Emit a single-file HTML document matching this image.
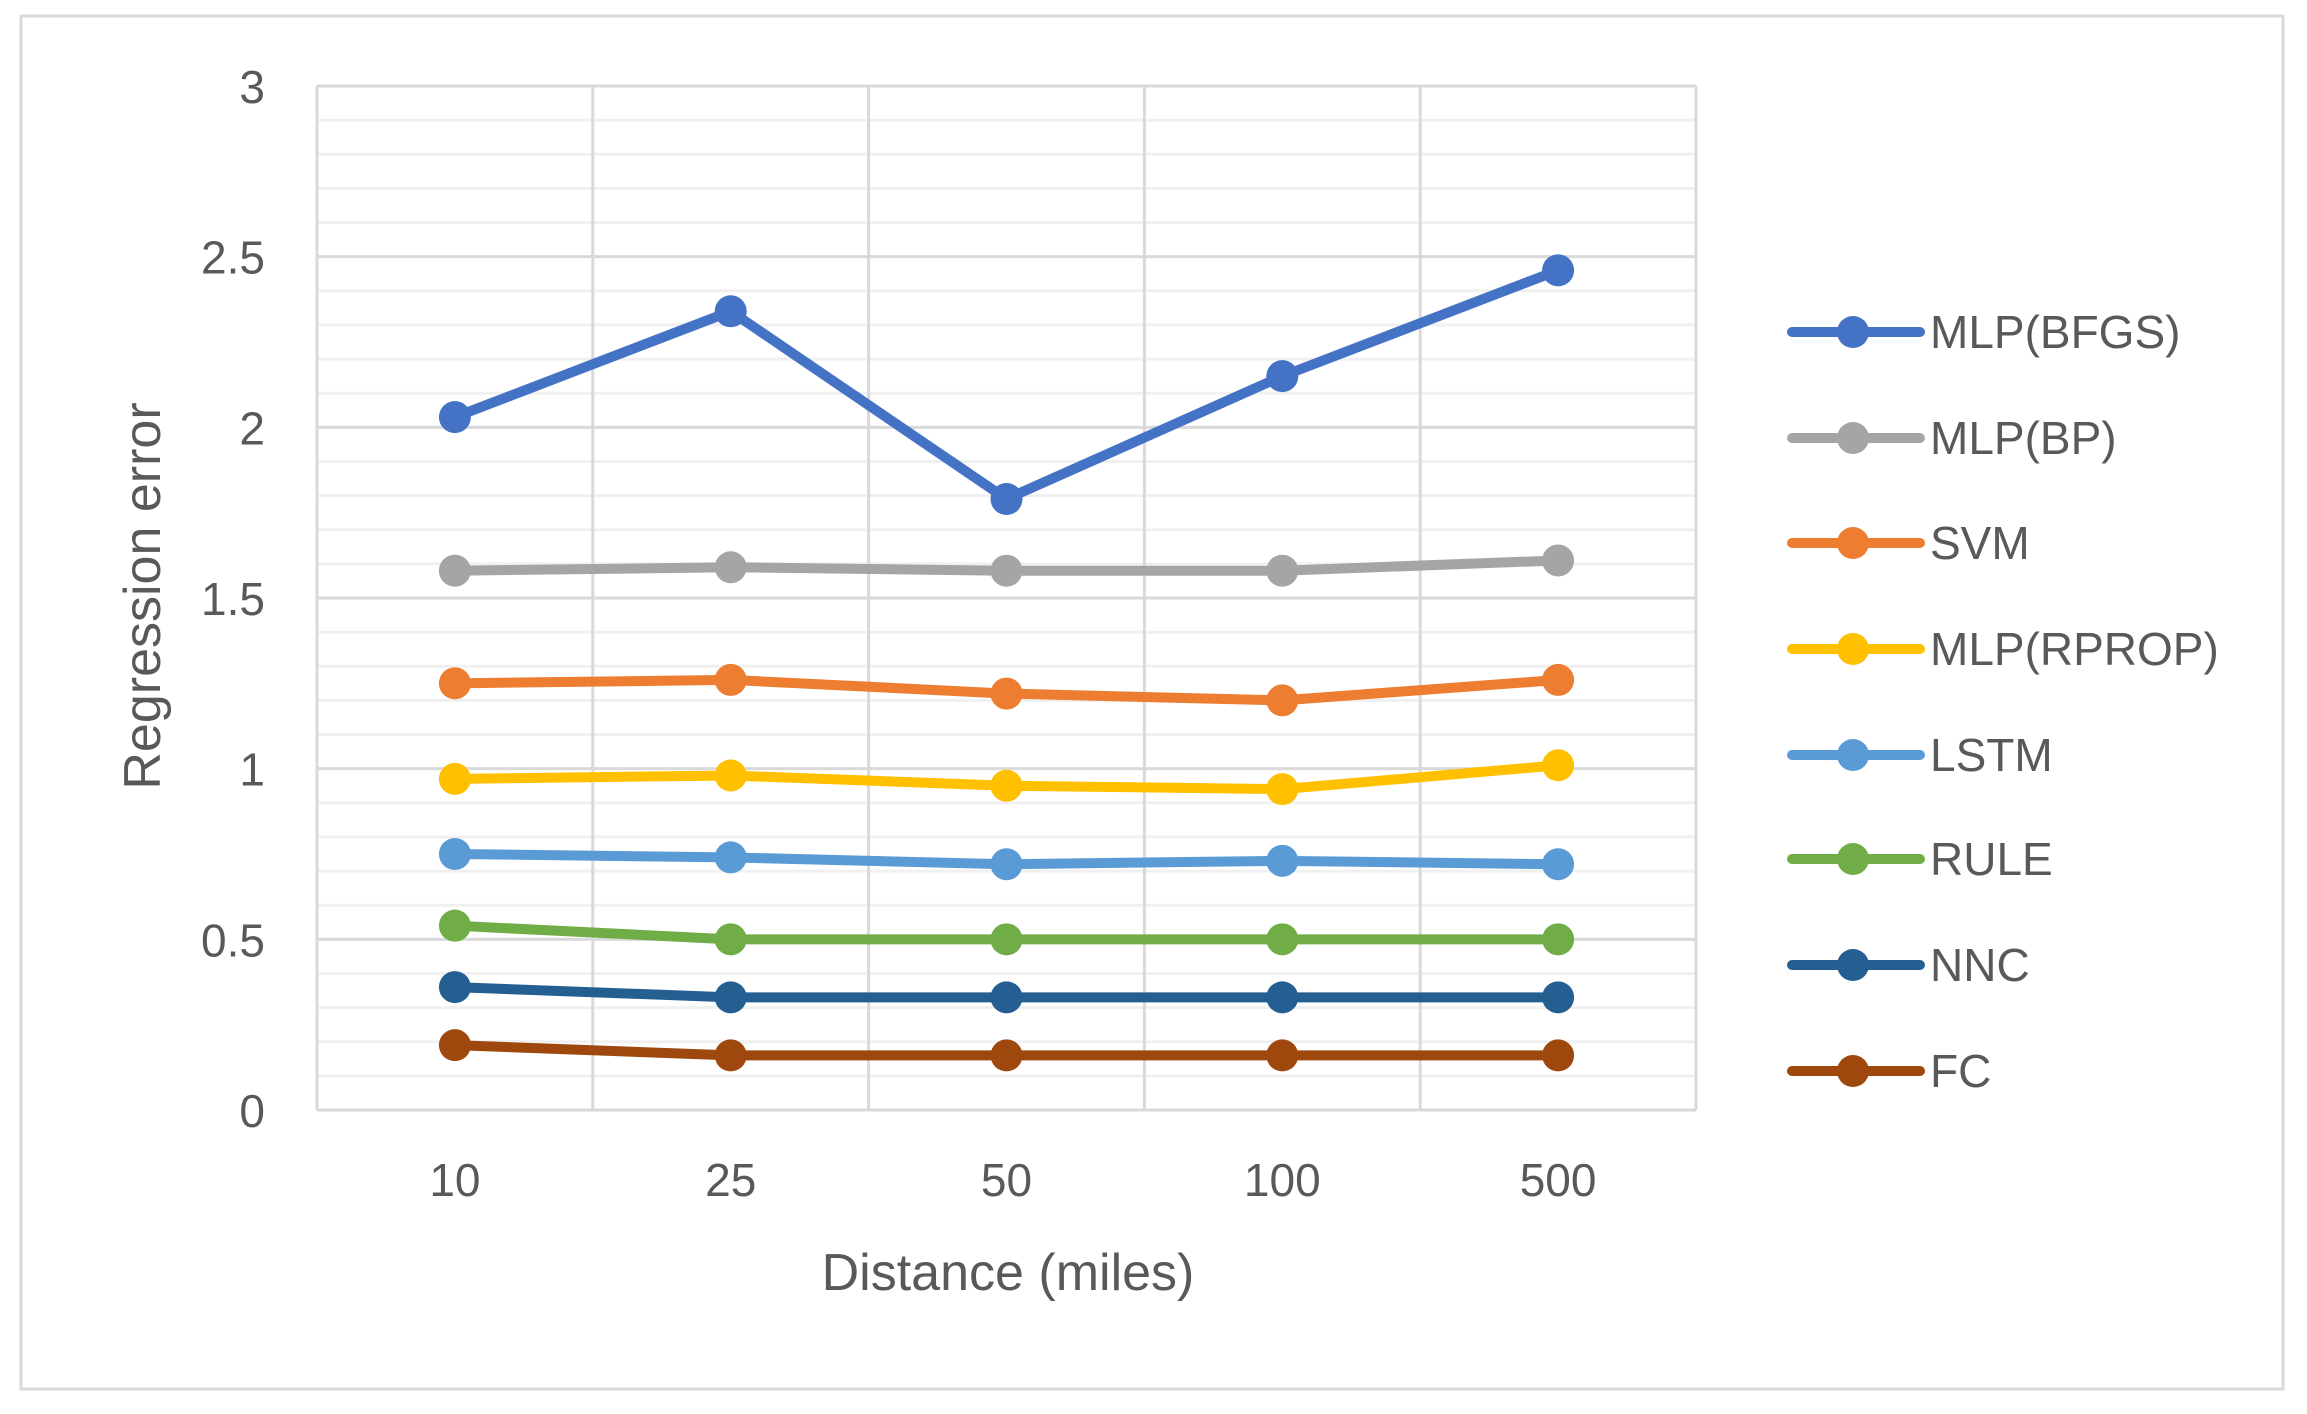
<!DOCTYPE html>
<html><head><meta charset="utf-8"><style>
html,body{margin:0;padding:0;background:#fff;}
svg{display:block;}
text{font-family:"Liberation Sans",sans-serif;fill:#595959;}
</style></head><body>
<svg id="s" width="2307" height="1414" viewBox="0 0 2307 1414" xmlns="http://www.w3.org/2000/svg">
<rect x="0" y="0" width="2307" height="1414" fill="#fff"/>
<rect x="21" y="16" width="2262" height="1373" fill="#fff" stroke="#d9d9d9" stroke-width="3"/>
<g id="grid"></g>
<g id="series"></g>
<g id="legend"></g>
<text x="1008" y="1290" font-size="52" text-anchor="middle">Distance (miles)</text>
<text transform="translate(160,596) rotate(-90)" font-size="52" text-anchor="middle">Regression error</text>
</svg>
<script>
const NS="http://www.w3.org/2000/svg";
function el(p,t,a,txt){const e=document.createElementNS(NS,t);for(const k in a)e.setAttribute(k,a[k]);if(txt!==undefined)e.textContent=txt;p.appendChild(e);return e;}
const L=317,R=1696,T=86,B=1110,U=(B-T)/3;
const g=document.getElementById('grid');
for(let i=0;i<=30;i++){const y=B-i*U/10;if(i%5)el(g,'line',{x1:L,x2:R,y1:y,y2:y,stroke:'#f0f0f0','stroke-width':3});}
for(let i=0;i<=6;i++){const y=B-i*U/2;el(g,'line',{x1:L,x2:R,y1:y,y2:y,stroke:'#d9d9d9','stroke-width':3});
el(g,'text',{x:265,y:y+17,'font-size':46,'text-anchor':'end'},String(i/2));}
for(let i=0;i<=5;i++){const x=L+i*(R-L)/5;el(g,'line',{x1:x,x2:x,y1:T,y2:B,stroke:'#d9d9d9','stroke-width':3});}
const cats=['10','25','50','100','500'],cx=i=>L+(i+0.5)*(R-L)/5;
cats.forEach((c,i)=>el(g,'text',{x:cx(i),y:1196,'font-size':46,'text-anchor':'middle'},c));
const S=[
['MLP(BFGS)','#4472C4',[2.03,2.34,1.79,2.15,2.46]],
['MLP(BP)','#A5A5A5',[1.58,1.59,1.58,1.58,1.61]],
['SVM','#ED7D31',[1.25,1.26,1.22,1.20,1.26]],
['MLP(RPROP)','#FFC000',[0.97,0.98,0.95,0.94,1.01]],
['LSTM','#5B9BD5',[0.75,0.74,0.72,0.73,0.72]],
['RULE','#70AD47',[0.54,0.50,0.50,0.50,0.50]],
['NNC','#255E91',[0.36,0.33,0.33,0.33,0.33]],
['FC','#9E480E',[0.19,0.16,0.16,0.16,0.16]]];
const sg=document.getElementById('series'),lg=document.getElementById('legend');
const ly=[332,438,543,649,755,859,965,1071];
S.slice().reverse().forEach(s=>{
 const pts=s[2].map((v,i)=>cx(i)+','+(B-v*U)).join(' ');
 el(sg,'polyline',{points:pts,fill:'none',stroke:s[1],'stroke-width':10,'stroke-linejoin':'round','stroke-linecap':'round'});
 s[2].forEach((v,i)=>el(sg,'circle',{cx:cx(i),cy:B-v*U,r:16,fill:s[1]}));
});
S.forEach((s,k)=>{const y=ly[k];
 el(lg,'line',{x1:1792,x2:1920,y1:y,y2:y,stroke:s[1],'stroke-width':10,'stroke-linecap':'round'});
 el(lg,'circle',{cx:1853,cy:y,r:16,fill:s[1]});
 el(lg,'text',{x:1930,y:y+16,'font-size':46},s[0]);
});
</script>
</body></html>
